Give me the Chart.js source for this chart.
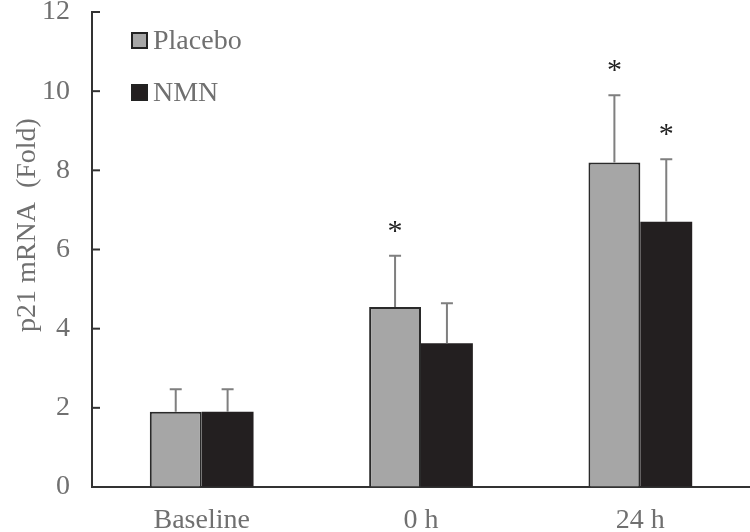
<!DOCTYPE html>
<html>
<head>
<meta charset="utf-8">
<script src="https://cdn.jsdelivr.net/npm/chart.js@4/dist/chart.umd.min.js"></script>
<style>
  html, body { margin: 0; padding: 0; background: #fff; }
  #wrap { width: 750px; height: 532px; }
</style>
</head>
<body>
<div id="wrap"><canvas id="chart"></canvas></div>
<script>
const categories = ['Baseline', '0 h', '24 h']
const placebo    = [1.90, 4.55, 8.20]
const nmn        = [1.90, 3.63, 6.70]
const placeboErr = [0.57, 1.29, 1.70]
const nmnErr     = [0.57, 1.01, 1.58]
const placeboSig = ['', '*', '*']
const nmnSig     = ['', '', '*']
const yTicks     = [0, 2, 4, 6, 8, 10, 12]

const FONT = '"Liberation Serif", "Times New Roman", serif'
const GREY_TXT = '#707070'
const AXIS = '#333333'

// error bars, asterisks, inner ticks, legend and y title
const extras = {
  id: 'extras',
  afterDatasetsDraw(chart) {
    const ctx = chart.ctx
    const y = chart.scales.y
    const errs = [placeboErr, nmnErr]
    const sigs = [placeboSig, nmnSig]
    ctx.save()
    chart.data.datasets.forEach((ds, di) => {
      const meta = chart.getDatasetMeta(di)
      meta.data.forEach((bar, i) => {
        const top = y.getPixelForValue(ds.data[i] + errs[di][i])
        ctx.strokeStyle = '#7f7f7f'
        ctx.lineWidth = 2
        ctx.beginPath()
        ctx.moveTo(bar.x, bar.y)
        ctx.lineTo(bar.x, top)
        ctx.moveTo(bar.x - 6, top)
        ctx.lineTo(bar.x + 6, top)
        ctx.stroke()
        if (sigs[di][i]) {
          ctx.fillStyle = '#222'
          ctx.font = '30px ' + FONT
          ctx.textAlign = 'center'
          ctx.textBaseline = 'middle'
          ctx.fillText(sigs[di][i], bar.x, top - 24)
        }
      })
    })

    // inner ticks on y axis
    ctx.strokeStyle = AXIS
    ctx.lineWidth = 2
    yTicks.forEach(v => {
      const py = y.getPixelForValue(v)
      ctx.beginPath()
      ctx.moveTo(y.right, py)
      ctx.lineTo(y.right + 8, py)
      ctx.stroke()
    })

    // legend
    const items = [
      { label: 'Placebo', fill: '#a6a6a6', y: 41 },
      { label: 'NMN', fill: '#231f20', y: 93 }
    ]
    items.forEach(it => {
      ctx.fillStyle = it.fill
      ctx.fillRect(132, it.y - 8, 15, 15)
      ctx.strokeStyle = '#222'
      ctx.lineWidth = 2
      ctx.strokeRect(132, it.y - 8, 15, 15)
      ctx.fillStyle = GREY_TXT
      ctx.font = '28px ' + FONT
      ctx.textAlign = 'left'
      ctx.textBaseline = 'middle'
      ctx.fillText(it.label, 153, it.y + 1)
    })

    // y axis title
    ctx.translate(28, 225)
    ctx.rotate(-Math.PI / 2)
    ctx.fillStyle = GREY_TXT
    ctx.font = '28px ' + FONT
    ctx.textAlign = 'center'
    ctx.textBaseline = 'middle'
    ctx.fillText('p21 mRNA  (Fold)', 0, 0)
    ctx.restore()
  }
}

new Chart(document.getElementById('chart'), {
  type: 'bar',
  data: {
    labels: categories,
    datasets: [
      {
        label: 'Placebo',
        data: placebo,
        backgroundColor: '#a6a6a6',
        borderColor: '#2a2a2a',
        borderWidth: 2,
        borderSkipped: 'bottom'
      },
      {
        label: 'NMN',
        data: nmn,
        backgroundColor: '#231f20',
        borderColor: '#231f20',
        borderWidth: 0
      }
    ]
  },
  options: {
    responsive: true,
    maintainAspectRatio: false,
    animation: false,
    layout: { padding: { top: 12, left: 0, right: 0, bottom: 0 } },
    datasets: { bar: { categoryPercentage: 0.473, barPercentage: 1.0 } },
    plugins: {
      legend: { display: false },
      tooltip: { enabled: false }
    },
    scales: {
      x: {
        grid: { display: false, drawTicks: false },
        border: { color: AXIS, width: 2 },
        ticks: { color: GREY_TXT, font: { family: FONT, size: 28 }, padding: 17 },
        afterFit: s => { s.height = 45; s.paddingLeft = 0; s.paddingRight = 0 }
      },
      y: {
        min: 0,
        max: 12,
        afterBuildTicks: s => { s.ticks = yTicks.map(v => ({ value: v })) },
        grid: { drawOnChartArea: false, drawTicks: false },
        border: { color: AXIS, width: 2 },
        ticks: { color: GREY_TXT, font: { family: FONT, size: 28 }, padding: 22 },
        afterFit: s => { s.width = 92; s.paddingTop = 0; s.paddingBottom = 0 }
      }
    }
  },
  plugins: [extras]
})
</script>
</body>
</html>
